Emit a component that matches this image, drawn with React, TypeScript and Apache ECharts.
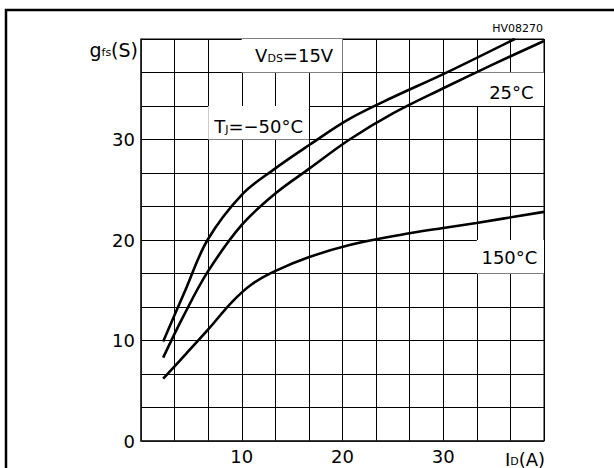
import React, { useEffect, useRef } from "react";
import * as echarts from "echarts";

// Drain current I_D (A) and transconductance g_fs (S) for each junction temperature
const idM50 = [2.2, 4.4, 6.6, 10, 13.3, 16.7, 20.6, 25, 30, 37.1];
const gfsM50 = [9.9, 15.0, 20.0, 24.5, 27.1, 29.45, 32.0, 34.2, 36.5, 40.0];
const id25 = [2.2, 4.2, 6.6, 10, 13.3, 16.7, 20.7, 25, 30, 35, 40];
const gfs25 = [8.3, 12.4, 16.8, 21.5, 24.6, 27.1, 30.0, 32.6, 35.1, 37.5, 39.8];
const id150 = [2.2, 4.4, 6.67, 9, 11, 13.3, 16.7, 20.7, 25.7, 30, 33.3, 40];
const gfs150 = [6.2, 8.6, 11.1, 13.8, 15.6, 16.9, 18.3, 19.5, 20.5, 21.2, 21.7, 22.8];

const xLabels = [10, 20, 30];
const yLabels = [0, 10, 20, 30];

const FONT = "DejaVu Sans";

const zip = (xs: number[], ys: number[]) => xs.map((x, i) => [x, ys[i]]);

const sub = { fontSize: 11, fontFamily: FONT, color: "#000", verticalAlign: "bottom" as const, lineHeight: 18, padding: [0, 0, 1, 0] };
const main = { fontSize: 18, fontFamily: FONT, color: "#000", verticalAlign: "bottom" as const, lineHeight: 18 };

const labelOf = (v: number, list: number[]) => {
  const r = Math.round(v);
  return Math.abs(v - r) < 1e-6 && list.includes(r) ? String(r) : "";
};

export default function App() {
  const ref = useRef<HTMLDivElement>(null);
  useEffect(() => {
    if (!ref.current) return;
    const chart = echarts.init(ref.current, undefined, { renderer: "svg" });
    const step = 10 / 3;
    const lineStyle = { color: "#000", width: 2.6 };
    const boxLabel = (text: string, dx = 0, dy = 0) => ({
      show: true,
      position: "inside",
      formatter: text,
      offset: [dx, dy],
      rich: { m: main, s: sub },
    });
    chart.setOption({
      animation: false,
      backgroundColor: "#fff",
      grid: { left: 141, top: 39, width: 403, height: 402, show: true, borderColor: "#000", borderWidth: 1 },
      xAxis: {
        type: "value",
        min: 0,
        max: 40,
        interval: step,
        axisLine: { show: true, lineStyle: { color: "#222", width: 1.5 } },
        axisTick: { show: false },
        splitLine: { show: true, lineStyle: { color: "#000", width: 1 } },
        axisLabel: {
          margin: 6,
          fontSize: 18,
          fontFamily: FONT,
          color: "#000",
          formatter: (v: number) => labelOf(v, xLabels),
        },
      },
      yAxis: {
        type: "value",
        min: 0,
        max: 40,
        interval: step,
        axisLine: { show: true, lineStyle: { color: "#222", width: 1.5 } },
        axisTick: { show: false },
        splitLine: { show: true, lineStyle: { color: "#000", width: 1 } },
        axisLabel: {
          margin: 6,
          fontSize: 18,
          fontFamily: FONT,
          color: "#000",
          formatter: (v: number) => labelOf(v, yLabels),
        },
      },
      series: [
        {
          type: "line",
          data: [],
          z: 1,
          silent: true,
          markArea: {
            silent: true,
            itemStyle: { color: "#fff", borderWidth: 0 },
            data: [
              [{ coord: [10, 40], label: boxLabel("{m|V}{s|DS}{m|=15V}", 2, 0) }, { coord: [20, 36.67] }],
              [{ coord: [6.67, 33.33], label: boxLabel("{m|T}{s|J}{m|=−50°C}", 0, 4) }, { coord: [16.67, 30] }],
              [{ coord: [33.33, 36.67], label: boxLabel("{m|25°C}", 1, 3) }, { coord: [40, 33.33] }],
              [{ coord: [33.33, 20], label: boxLabel("{m|150°C}", -1, 1) }, { coord: [40, 16.67] }],
            ],
          },
        },
        { type: "line", z: 3, data: zip(idM50, gfsM50), smooth: 0.35, showSymbol: false, lineStyle },
        { type: "line", z: 3, data: zip(id25, gfs25), smooth: 0.35, showSymbol: false, lineStyle },
        { type: "line", z: 3, data: zip(id150, gfs150), smooth: 0.35, showSymbol: false, lineStyle },
      ],
      graphic: [
        { type: "rect", shape: { x: 6, y: 10, width: 800, height: 700 }, style: { fill: "none", stroke: "#000", lineWidth: 2.5 }, silent: true },
        {
          type: "text",
          x: 543,
          y: 34,
          style: { text: "HV08270", fontSize: 11, fontFamily: FONT, fill: "#000", align: "right", verticalAlign: "bottom" },
        },
        {
          type: "text",
          x: 138,
          y: 59,
          style: {
            text: "{m|g}{s|fs}{m|(S)}",
            align: "right",
            verticalAlign: "bottom",
            rich: { m: { ...main, fontSize: 19 }, s: sub },
          },
        },
        {
          type: "text",
          x: 505,
          y: 468,
          style: {
            text: "{m|I}{s|D}{m|(A)}",
            align: "left",
            verticalAlign: "bottom",
            rich: { m: main, s: sub },
          },
        },
      ],
    });
    return () => chart.dispose();
  }, []);
  return <div ref={ref} style={{ position: "fixed", left: 0, top: 0, width: 614, height: 468 }} />;
}
